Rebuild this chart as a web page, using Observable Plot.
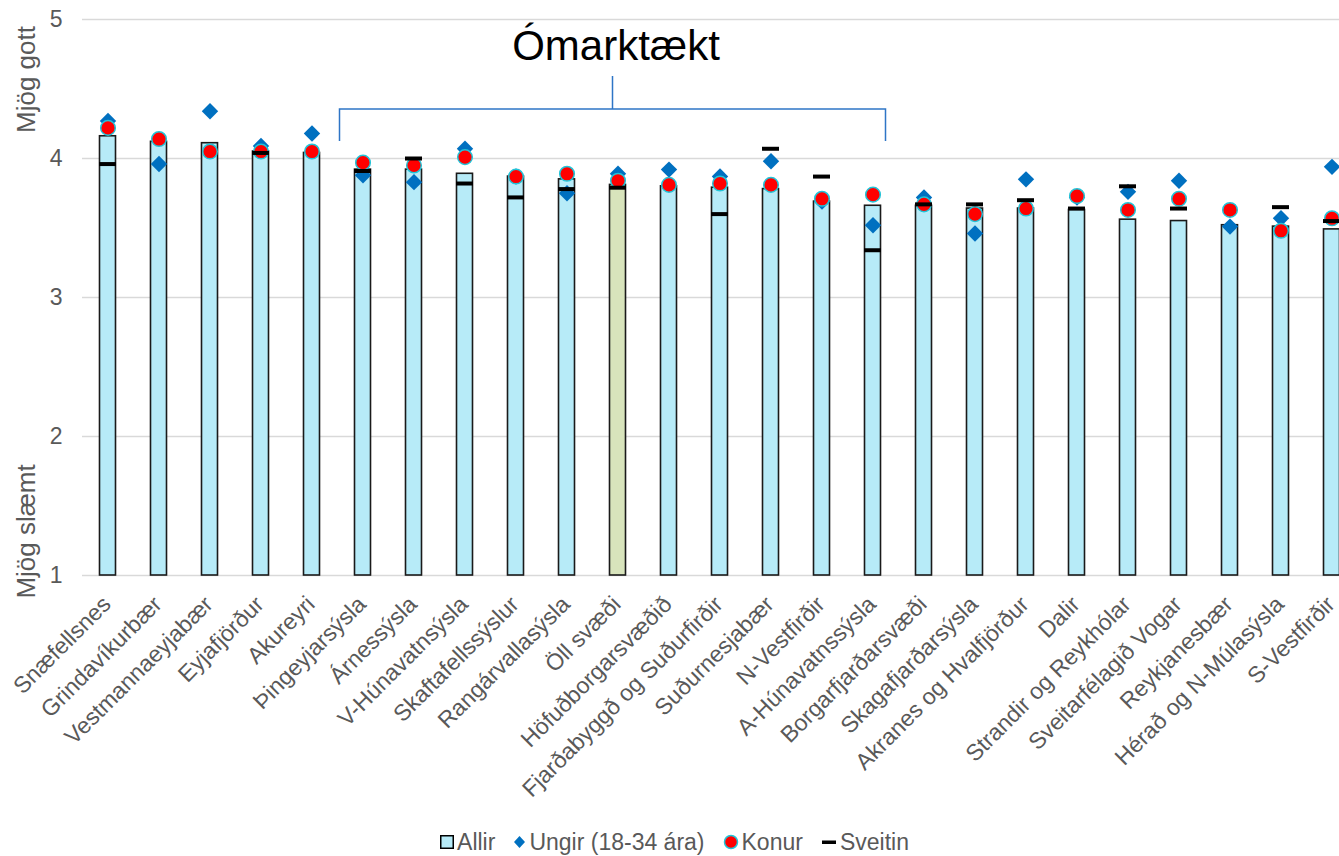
<!DOCTYPE html>
<html><head><meta charset="utf-8">
<script src="https://cdn.jsdelivr.net/npm/d3@7"></script>
<script src="https://cdn.jsdelivr.net/npm/@observablehq/plot@0.6"></script>
<style>
html,body{margin:0;padding:0;background:#fff;overflow:hidden;width:1339px;height:856px;}
#chart{position:absolute;left:0;top:0;}
#legend{position:absolute;top:829px;left:0;width:1339px;height:26px;display:flex;justify-content:center;align-items:center;
  font-family:"Liberation Sans",Arial,sans-serif;font-size:23px;color:#595959;line-height:26px;padding-left:10px;box-sizing:border-box;}
#legend .item{display:flex;align-items:center;margin:0 9px;white-space:nowrap;}
#legend svg{margin-right:3px;}
</style></head><body>
<div id="chart"></div>
<div id="legend"></div>
<script>
const categories = ["Snæfellsnes","Grindavíkurbær","Vestmannaeyjabær","Eyjafjörður","Akureyri","Þingeyjarsýsla","Árnessýsla","V-Húnavatnsýsla","Skaftafellssýslur","Rangárvallasýsla","Öll svæði","Höfuðborgarsvæðið","Fjarðabyggð og Suðurfirðir","Suðurnesjabær","N-Vestfirðir","A-Húnavatnssýsla","Borgarfjarðarsvæði","Skagafjarðarsýsla","Akranes og Hvalfjörður","Dalir","Strandir og Reykhólar","Sveitarfélagið Vogar","Reykjanesbær","Hérað og N-Múlasýsla","S-Vestfirðir"];
const allir   = [4.16,4.12,4.11,4.05,4.04,3.92,3.92,3.89,3.87,3.85,3.81,3.80,3.79,3.78,3.69,3.66,3.66,3.64,3.64,3.63,3.56,3.55,3.52,3.51,3.49];
const ungir   = [4.27,3.96,4.34,4.09,4.18,3.88,3.83,4.07,3.87,3.75,3.89,3.92,3.87,3.98,3.69,3.52,3.72,3.46,3.85,3.72,3.76,3.84,3.51,3.57,3.94];
const konur   = [4.22,4.14,4.05,4.05,4.05,3.97,3.95,4.01,3.87,3.89,3.84,3.81,3.82,3.81,3.71,3.74,3.67,3.60,3.64,3.73,3.63,3.71,3.63,3.48,3.57];
const sveitin = [3.96,null,null,4.04,null,3.91,4.00,3.82,3.72,3.78,3.79,null,3.60,4.07,3.87,3.34,3.67,3.67,3.70,3.64,3.80,3.64,null,3.65,3.55];
const seriesNames = ["Allir","Ungir (18-34 ára)","Konur","Sveitin"];
const highlight = "Öll svæði";
const yTicks = [1,2,3,4,5];
const yTitleTop = "Mjög gott";
const yTitleBottom = "Mjög slæmt";
const bracketLabel = "Ómarktækt";
const bracketFrom = "Þingeyjarsýsla";
const bracketTo = "A-Húnavatnssýsla";
const bracketLevels = {ends: 4.122, bar: 4.353, stem: 4.59, label: 4.705};

const colors = {bar:"#b7ebf8", barHi:"#d8e4bc", ungir:"#0070c0", konur:"#ff0000", konurEdge:"#22c4d8", sveitin:"#000000", bracket:"#2e75c6"};
const font = "'Liberation Sans', Arial, sans-serif";

const rows = categories.map((c, i) => ({cat: c, allir: allir[i], ungir: ungir[i], konur: konur[i], sveitin: sveitin[i]}));

function bracket(index, scales) {
  const x = scales.x, y = scales.y;
  const bw = x.bandwidth ? x.bandwidth() : 0;
  const x1 = x(bracketFrom) + bw / 2 - 23;
  const x2 = x(bracketTo) + bw / 2 + 13;
  const xm = (x1 + x2) / 2;
  const g = d3.create("svg:g");
  g.append("path")
    .attr("d", `M${x1},${y(bracketLevels.ends)}V${y(bracketLevels.bar)}H${x2}V${y(bracketLevels.ends)}M${xm},${y(bracketLevels.bar)}V${y(bracketLevels.stem)}`)
    .attr("fill", "none").attr("stroke", colors.bracket).attr("stroke-width", 1.5);
  g.append("text").attr("x", xm + 3.5).attr("y", y(bracketLevels.label))
    .attr("text-anchor", "middle").attr("font-size", 42).attr("font-family", font).attr("fill", "#000")
    .text(bracketLabel);
  return g.node();
}

const chart = Plot.plot({
  width: 1357, height: 820,
  marginLeft: 82, marginRight: 0, marginTop: 19, marginBottom: 245,
  style: {maxWidth: "none", fontFamily: font, background: "transparent", overflow: "visible"},
  x: {domain: categories, padding: 0, axis: null},
  y: {domain: [1, 5], axis: null},
  color: {type: "identity"},
  marks: [
    Plot.gridY(yTicks, {stroke: "#d9d9d9", strokeOpacity: 1, strokeWidth: 1.5}),
    Plot.axisY(yTicks, {tickSize: 0, tickPadding: 20, fontSize: 23, color: "#595959", tickFormat: d => String(d), label: null}),
    Plot.barY(rows, {x: "cat", y1: () => 1, y2: "allir", fill: d => d.cat === highlight ? colors.barHi : colors.bar,
      stroke: "#1a1a1a", strokeWidth: 1.6, insetLeft: 17.5, insetRight: 17.5}),
    Plot.dot(rows, {x: "cat", y: "ungir", symbol: "diamond2", r: 7.4, fill: colors.ungir, stroke: "none"}),
    Plot.dot(rows, {x: "cat", y: "konur", r: 7.3, fill: colors.konur, stroke: colors.konurEdge, strokeWidth: 1.5}),
    Plot.tickY(rows.filter(d => d.sveitin != null), {x: "cat", y: "sveitin", stroke: colors.sveitin, strokeWidth: 4, insetLeft: 17, insetRight: 17}),
    Plot.text(categories, {x: d => d, frameAnchor: "bottom", rotate: -45, textAnchor: "end", lineAnchor: "middle",
      dx: -1, dy: 25, fontSize: 23, fill: "#595959"}),
    Plot.text([yTitleTop], {frameAnchor: "left", y: () => 4.568, rotate: -90, dx: -56, fontSize: 26, fill: "#595959", textAnchor: "middle", lineAnchor: "middle"}),
    Plot.text([yTitleBottom], {frameAnchor: "left", y: () => 1.317, rotate: -90, dx: -56, fontSize: 26, fill: "#595959", textAnchor: "middle", lineAnchor: "middle"}),
    bracket
  ]
});
document.getElementById("chart").appendChild(chart);

const swatches = [
  `<svg width="14" height="14"><rect x="0.75" y="0.75" width="12.5" height="12.5" fill="${colors.bar}" stroke="#000" stroke-width="1.5"/></svg>`,
  `<svg width="13" height="14"><path d="M6.5,1L12,7L6.5,13L1,7Z" fill="${colors.ungir}"/></svg>`,
  `<svg width="16" height="16"><circle cx="8" cy="8" r="6.5" fill="${colors.konur}" stroke="${colors.konurEdge}" stroke-width="1.5"/></svg>`,
  `<svg width="16" height="14"><rect x="1" y="5.5" width="14" height="3.5" fill="#000"/></svg>`
];
const legend = document.getElementById("legend");
seriesNames.forEach((name, i) => {
  const s = document.createElement("span");
  s.className = "item";
  s.innerHTML = swatches[i] + "<span></span>";
  s.lastChild.textContent = name;
  legend.appendChild(s);
});
</script>
</body></html>
